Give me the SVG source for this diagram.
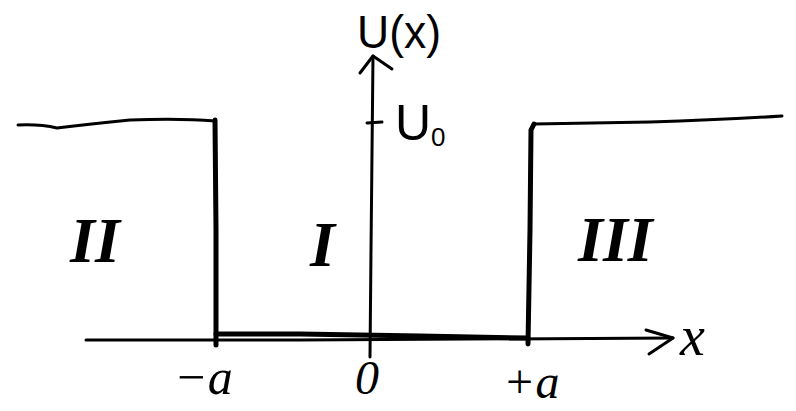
<svg xmlns="http://www.w3.org/2000/svg" width="796" height="411" viewBox="0 0 796 411">
<style>
.ln{fill:none;stroke:#000;stroke-linecap:round;stroke-linejoin:round}
.ax{stroke-width:3}
.wl{stroke-width:5}
.tx{font-family:"Liberation Serif",serif;font-style:italic;fill:#000}
.rn{font-family:"Liberation Serif",serif;font-style:italic;font-weight:bold;fill:#000}
.sx{font-family:"Liberation Sans",sans-serif;fill:#000}
</style>
<rect width="796" height="411" fill="#fff"/>
<g id="connectors">
<path id="y-axis" class="ln ax" d="M370,357 L371,250 L373,56"/>
<path id="y-arrow" class="ln ax" d="M360,73 L373,56 L392,69"/>
<path id="x-axis" class="ln ax" d="M86,340 L300,340 L673,338"/>
<path id="x-arrow" class="ln ax" d="M646,330 L673,338 L649,354"/>
<path id="u0-tick" class="ln ax" d="M367,123 L382,122"/>
<path id="left-top" class="ln ax" d="M18,125 Q40,124 57,128 Q90,124 130,120 Q180,118 215,121"/>
<path id="left-wall" class="ln wl" d="M215,120 L216,230 L216,345"/>
<path id="well-bottom" class="ln wl" d="M216,334 L300,334 L420,336 L528,338"/>
<path id="right-wall" class="ln wl" d="M528,344 L530,230 L531,130 L534,124"/>
<path id="right-top" class="ln ax" d="M534,124 Q600,123 650,122 Q720,120 782,116"/>
</g>
<g id="label-ux"><text class="sx" x="357" y="48" font-size="46" textLength="84" lengthAdjust="spacingAndGlyphs">U(x)</text></g>
<g id="label-u0"><text class="sx" x="395" y="140" font-size="50">U<tspan font-size="26" dy="6">0</tspan></text></g>
<g id="region-II"><text class="rn" x="70" y="262" font-size="64">II</text></g>
<g id="region-I"><text class="rn" x="310" y="266" font-size="64">I</text></g>
<g id="region-III"><text class="rn" x="578" y="261" font-size="64">III</text></g>
<g id="label-x"><text class="tx" x="680" y="355" font-size="56">x</text></g>
<g id="label-minus-a"><text class="tx" x="174" y="394" font-size="50">−a</text></g>
<g id="label-zero"><text class="tx" x="355" y="394" font-size="48">0</text></g>
<g id="label-plus-a"><text class="tx" x="503" y="398" font-size="48">+a</text></g>
</svg>
